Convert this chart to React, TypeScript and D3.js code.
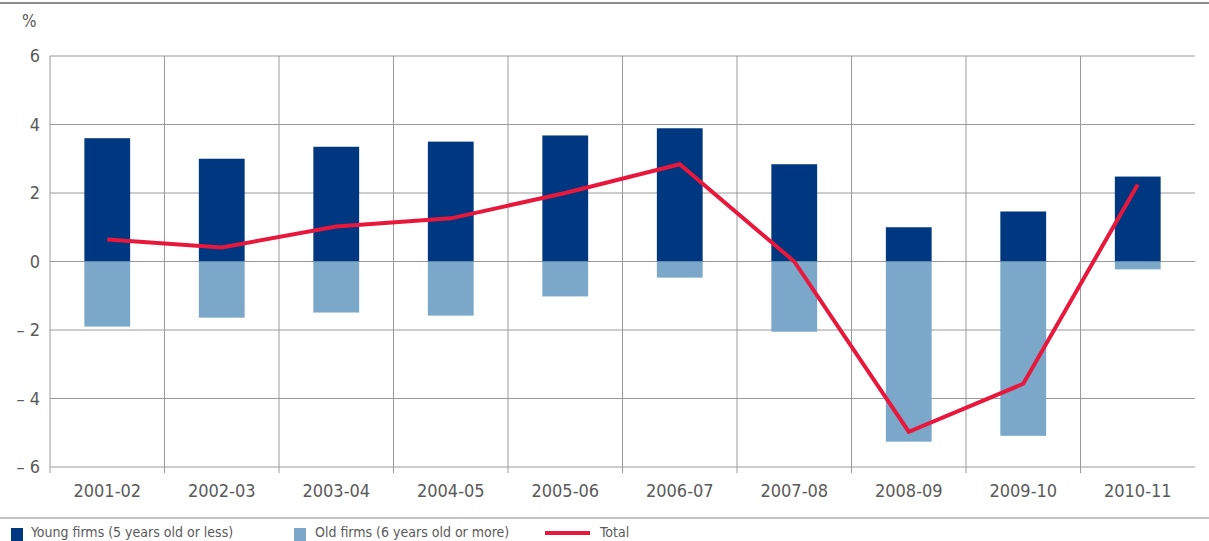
import React from "react";
import * as d3 from "d3";

const categories = ["2001-02", "2002-03", "2003-04", "2004-05", "2005-06", "2006-07", "2007-08", "2008-09", "2009-10", "2010-11"];
const youngFirms = [3.6, 3.0, 3.35, 3.5, 3.68, 3.89, 2.84, 1.0, 1.46, 2.48];
const oldFirms = [-1.9, -1.64, -1.49, -1.58, -1.02, -0.47, -2.05, -5.26, -5.09, -0.23];
const total = [0.64, 0.41, 1.02, 1.26, 2.0, 2.84, 0.0, -4.97, -3.57, 2.25];
const yTicks = [6, 4, 2, 0, -2, -4, -6];

const W = 1209, H = 541;
const left = 50, right = 1195, top = 56, bottom = 467;
const DARK = "#003781";
const LIGHT = "#7ba7c9";
const RED = "#e8173c";
const GRID = "#9a9a9a";
const TXT = "#5a5a5a";
const FONT = "'Liberation Sans Narrow', 'DejaVu Sans Condensed', 'Roboto Condensed', sans-serif";

export default function App() {
  const x = d3.scaleBand<string>().domain(categories).range([left, right]).paddingInner(0).paddingOuter(0);
  const y = d3.scaleLinear().domain([-6, 6]).range([bottom, top]);
  const bw = x.bandwidth() * 0.4;
  const cx = (c: string) => (x(c) as number) + x.bandwidth() / 2;
  const line = d3.line<number>().x((_, i) => cx(categories[i])).y((d) => y(d));
  const fmt = (v: number) => (v < 0 ? "\u2013 " + Math.abs(v) : String(v));

  return (
    <svg width={W} height={H} style={{ position: "absolute", left: 0, top: 0, background: "#fff" }}>
      <line x1={0} x2={W} y1={3} y2={3} stroke="#666" strokeWidth={1.5} />
      <text x={22} y={27} fontSize={17} fill={TXT} fontFamily={FONT}>%</text>
      {yTicks.map((t) => (
        <g key={t}>
          <line x1={left} x2={right} y1={y(t)} y2={y(t)} stroke={GRID} strokeWidth={1} />
          <text x={40} y={y(t) + 6} fontSize={18} fill={TXT} textAnchor="end" fontFamily={FONT}>{fmt(t)}</text>
        </g>
      ))}
      {categories.map((c) => (
        <line key={"v" + c} x1={x(c) as number} x2={x(c) as number} y1={top} y2={bottom + 6} stroke={GRID} strokeWidth={1} />
      ))}
      {categories.map((c, i) => (
        <g key={c}>
          <rect x={cx(c) - bw / 2} width={bw} y={y(youngFirms[i])} height={y(0) - y(youngFirms[i])} fill={DARK} />
          <rect x={cx(c) - bw / 2} width={bw} y={y(0)} height={y(oldFirms[i]) - y(0)} fill={LIGHT} />
          <text x={cx(c)} y={497} fontSize={18} fill={TXT} textAnchor="middle" fontFamily={FONT}>{c}</text>
        </g>
      ))}
      <path d={line(total) || ""} fill="none" stroke={RED} strokeWidth={4} strokeLinejoin="miter" />
      <line x1={0} x2={W} y1={518} y2={518} stroke="#888" strokeWidth={1.2} />
      <rect x={11} y={528} width={12} height={13} fill={DARK} />
      <text x={31} y={537} fontSize={14} fill={TXT} fontFamily={FONT}>Young firms (5 years old or less)</text>
      <rect x={294} y={528} width={12} height={13} fill={LIGHT} />
      <text x={315} y={537} fontSize={14} fill={TXT} fontFamily={FONT}>Old firms (6 years old or more)</text>
      <line x1={545} x2={590} y1={533} y2={533} stroke={RED} strokeWidth={4} />
      <text x={600} y={537} fontSize={14} fill={TXT} fontFamily={FONT}>Total</text>
    </svg>
  );
}
